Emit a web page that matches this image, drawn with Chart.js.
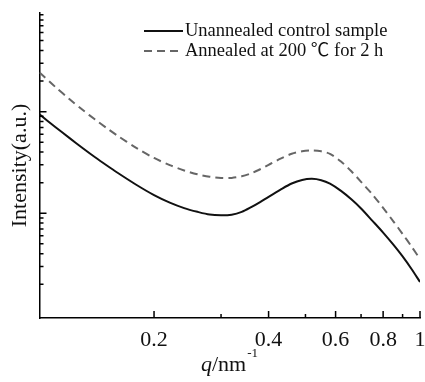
<!DOCTYPE html>
<html>
<head>
<meta charset="utf-8">
<script src="https://cdn.jsdelivr.net/npm/chart.js@4.4.1/dist/chart.umd.min.js"></script>
<style>
  html, body { margin: 0; padding: 0; background: #fff; }
</style>
</head>
<body>
<canvas id="mycanvas" width="425" height="382"></canvas>
<script>
// q in nm^-1, intensity in arbitrary units
var q = [0.1, 0.11, 0.12, 0.13, 0.14, 0.15, 0.16, 0.18, 0.2, 0.22, 0.24, 0.26, 0.28, 0.3, 0.32, 0.34, 0.36, 0.38, 0.4,
         0.43, 0.46, 0.49, 0.52, 0.55, 0.58, 0.62, 0.66, 0.7, 0.75, 0.8, 0.85, 0.9, 0.95, 1.0];
var unannealed = [94.1, 70.7, 54.9, 43.7, 35.6, 29.7, 25.2, 18.98, 15.1, 12.74, 11.25, 10.34, 9.71, 9.56, 9.69, 10.32, 11.48, 12.88, 14.53,
                  17.1, 19.63, 21.3, 21.84, 21.16, 19.54, 16.61, 13.73, 11.15, 8.42, 6.45, 4.93, 3.76, 2.83, 2.11];
var annealed = [243.4, 175.4, 132.4, 103.7, 83.6, 69.1, 58.3, 43.8, 35.0, 29.8, 26.4, 24.2, 22.9, 22.3, 22.3, 23.1, 24.7, 27.1, 29.9,
                34.5, 38.5, 40.8, 41.5, 40.7, 38.4, 32.3, 25.9, 20.4, 15.3, 11.3, 8.38, 6.26, 4.71, 3.55];
var seriesNames = ["Unannealed control sample", "Annealed at 200 \u2103 for 2 h"];
var xTickValues = [0.2, 0.4, 0.6, 0.8, 1];
var xMinorValues = [0.3, 0.5, 0.7, 0.9];
var xRange = [0.1, 1];
var yRange = [0.932, 935];

var serif = "'Liberation Serif', 'Times New Roman', 'Noto Sans CJK SC', serif";

function toPoints(ys) {
  return q.map(function (v, i) { return { x: v, y: ys[i] }; });
}

// inward tick marks, legend and the x title with italic q and superscript
var extras = {
  id: 'extras',
  afterDraw: function (chart) {
    var ctx = chart.ctx, xs = chart.scales.x, ys = chart.scales.y, a = chart.chartArea;
    ctx.save();
    ctx.strokeStyle = '#000';
    ctx.lineWidth = 1.5;
    ctx.beginPath();
    xTickValues.forEach(function (v) {
      var px = xs.getPixelForValue(v);
      ctx.moveTo(px, a.bottom); ctx.lineTo(px, a.bottom - 7);
    });
    xMinorValues.forEach(function (v) {
      var px = xs.getPixelForValue(v);
      ctx.moveTo(px, a.bottom); ctx.lineTo(px, a.bottom - 4);
    });
    for (var k = 0; k <= 2; k++) {
      for (var m = 1; m <= 9; m++) {
        var v = m * Math.pow(10, k);
        if (v < yRange[0] || v > yRange[1]) continue;
        var py = ys.getPixelForValue(v);
        if (py > a.bottom - 4 || py < a.top + 1) continue;
        ctx.moveTo(a.left, py); ctx.lineTo(a.left + (m === 1 ? 7 : 4), py);
      }
    }
    ctx.stroke();

    // legend
    var lx = 144, ly = [31, 51];
    chart.data.datasets.forEach(function (ds, i) {
      ctx.beginPath();
      ctx.strokeStyle = ds.borderColor;
      ctx.lineWidth = ds.borderWidth;
      ctx.setLineDash(ds.borderDash || []);
      ctx.moveTo(lx, ly[i]); ctx.lineTo(lx + 39, ly[i]);
      ctx.stroke();
      ctx.setLineDash([]);
      ctx.fillStyle = '#111';
      ctx.font = '18.5px ' + serif;
      ctx.textBaseline = 'middle';
      ctx.textAlign = 'left';
      ctx.fillText(ds.label, lx + 41, ly[i]);
    });

    // x title: q/nm^-1
    ctx.fillStyle = '#111';
    ctx.textBaseline = 'alphabetic';
    var tx = 201, tb = 371;
    ctx.font = 'italic 22px ' + serif;
    ctx.fillText('q', tx, tb);
    tx += ctx.measureText('q').width;
    ctx.font = '22px ' + serif;
    ctx.fillText('/nm', tx, tb);
    tx += ctx.measureText('/nm').width;
    ctx.font = '13px ' + serif;
    ctx.fillText('-1', tx + 1, tb - 14);
    ctx.restore();
  }
};

var chartdata = {
  datasets: [
    {
      label: seriesNames[0],
      data: toPoints(unannealed),
      borderColor: '#111',
      borderWidth: 2,
      pointRadius: 0,
      tension: 0.3,
      fill: false
    },
    {
      label: seriesNames[1],
      data: toPoints(annealed),
      borderColor: '#666',
      borderWidth: 2,
      borderDash: [8, 5],
      pointRadius: 0,
      tension: 0.3,
      fill: false
    }
  ]
};

var ctx = document.getElementById('mycanvas');
var lineGraph = new Chart(ctx, {
  type: 'line',
  data: chartdata,
  plugins: [extras],
  options: {
    responsive: false,
    animation: false,
    layout: { padding: { top: 13, right: 5, left: 0, bottom: 0 } },
    plugins: { legend: { display: false }, tooltip: { enabled: false } },
    scales: {
      x: {
        type: 'logarithmic',
        min: xRange[0],
        max: xRange[1],
        grid: { display: false },
        border: { display: true, color: '#000', width: 1.5 },
        afterBuildTicks: function (scale) {
          scale.ticks = xTickValues.map(function (v) { return { value: v }; });
        },
        afterFit: function (scale) {
          scale.height = 64;
          scale.paddingLeft = 0;
          scale.paddingRight = 0;
        },
        ticks: {
          autoSkip: false,
          maxRotation: 0,
          padding: 1,
          color: '#111',
          font: { family: serif, size: 22 },
          callback: function (v) { return String(v); }
        }
      },
      y: {
        type: 'logarithmic',
        min: yRange[0],
        max: yRange[1],
        grid: { display: false },
        border: { display: true, color: '#000', width: 1.5 },
        ticks: { display: false },
        afterFit: function (scale) { scale.width = 39.5; },
        title: {
          display: true,
          text: 'Intensity(a.u.)',
          color: '#111',
          font: { family: serif, size: 22 },
          padding: { top: 7, bottom: 0 }
        }
      }
    }
  }
});
</script>
</body>
</html>
